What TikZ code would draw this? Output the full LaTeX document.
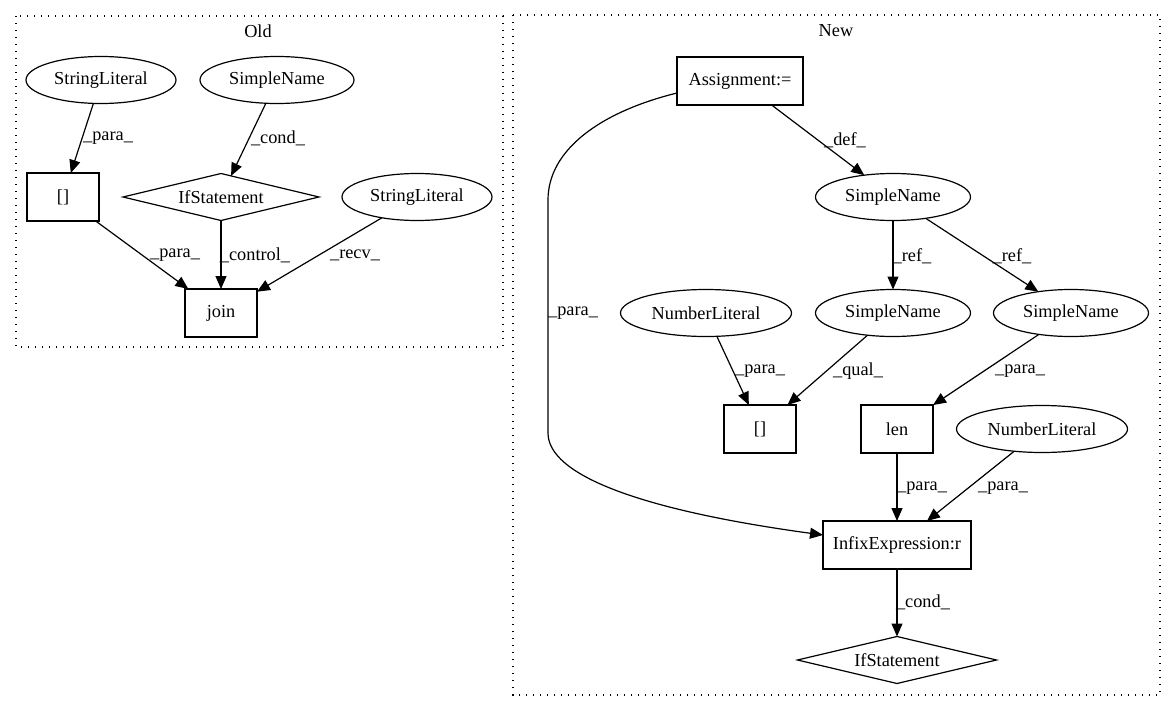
\documentclass[tikz,border=0pt]{standalone}
\usepackage{fontspec}
\setmainfont{Liberation Serif}
\usetikzlibrary{shapes.geometric,arrows.meta}
\tikzset{
  base/.style={draw, line width=1.2pt, inner sep=0pt, outer sep=0pt, font=\fontsize{18.3}{22}\selectfont},
  ell/.style={base, ellipse, minimum height=47pt},
  box/.style={base, rectangle, minimum height=48pt},
  dia/.style={base, diamond, shape aspect=4.2, minimum height=47pt},
  lbl/.style={inner sep=0pt, font=\fontsize{18.3}{22}\selectfont},
  edge/.style={line width=1.2pt, -{Triangle[length=13pt,width=11pt]}},
  cluster/.style={line width=1.3pt, dash pattern=on 1.4pt off 5.6pt},
}
\begin{document}
\begin{tikzpicture}[x=1pt,y=-1pt]
\useasboundingbox (0,0) rectangle (1176,712);
% clusters
\draw[cluster] (16,16) rectangle (503,347);
\node[lbl] (oldlbl) at (258,31) {Old};
\draw[cluster] (513,15) rectangle (1160,695);
\node[lbl] (newlbl) at (836,31) {New};

% Old nodes
\node[ell, minimum width=150pt] (osl1) at (101,80) {StringLiteral};
\node[ell, minimum width=154pt] (osn) at (277,80) {SimpleName};
\node[box, minimum width=72pt] (obr) at (63,197) {[]};
\node[dia, minimum width=196pt] (oif) at (221,197) {IfStatement};
\node[ell, minimum width=150pt] (osl2) at (417,197) {StringLiteral};
\node[box, minimum width=72pt] (ojoin) at (221,313) {join};

\draw[edge] (osl1) -- (obr);
\draw[edge] (osn) -- (oif);
\draw[edge] (obr) -- (ojoin);
\draw[edge] (oif) -- (ojoin);
\draw[edge] (osl2) -- (ojoin);
\node[lbl] (ol1) at (108,138) {\_para\_};
\node[lbl] (ol2) at (278,138) {\_cond\_};
\node[lbl] (ol3) at (175,255) {\_para\_};
\node[lbl] (ol4) at (255,255) {\_control\_};
\node[lbl] (ol5) at (355,255) {\_recv\_};

% New nodes
\node[box, minimum width=126pt] (nass) at (740,81) {Assignment:=};
\node[ell, minimum width=155pt] (nsn1) at (893,197) {SimpleName};
\node[ell, minimum width=171pt] (nnl1) at (706,313) {NumberLiteral};
\node[ell, minimum width=155pt] (nsn2) at (893,313) {SimpleName};
\node[ell, minimum width=155pt] (nsn3) at (1071,313) {SimpleName};
\node[box, minimum width=72pt] (nbr) at (760,429) {[]};
\node[box, minimum width=72pt] (nlen) at (897,429) {len};
\node[ell, minimum width=171pt] (nnl2) at (1042,429) {NumberLiteral};
\node[box, minimum width=148pt] (ninf) at (897,545) {InfixExpression:r};
\node[dia, minimum width=199pt] (nif) at (897,660) {IfStatement};

\draw[edge] (nass) -- (nsn1);
\draw[edge] (nsn1) -- (nsn2);
\draw[edge] (nsn1) -- (nsn3);
\draw[edge] (nnl1) -- (nbr);
\draw[edge] (nsn2) -- (nbr);
\draw[edge] (nsn3) -- (nlen);
\draw[edge] (nlen) -- (ninf);
\draw[edge] (nnl2) -- (ninf);
\draw[edge] (ninf) -- (nif);
\draw[edge] ([yshift=-12pt]nass.west) .. controls (600,112) and (548,150) .. (548,200)
  -- (548,433) .. controls (548,475) and (640,510) .. ([yshift=10pt]ninf.west);

\node[lbl] (nl1) at (845,140) {\_def\_};
\node[lbl] (nl2) at (912,256) {\_ref\_};
\node[lbl] (nl3) at (1012,256) {\_ref\_};
\node[lbl] (nl4) at (573,313) {\_para\_};
\node[lbl] (nl5) at (760,371) {\_para\_};
\node[lbl] (nl6) at (858,371) {\_qual\_};
\node[lbl] (nl7) at (1020,371) {\_para\_};
\node[lbl] (nl8) at (922,488) {\_para\_};
\node[lbl] (nl9) at (1003,488) {\_para\_};
\node[lbl] (nl10) at (923,602) {\_cond\_};
\end{tikzpicture}
\end{document}
